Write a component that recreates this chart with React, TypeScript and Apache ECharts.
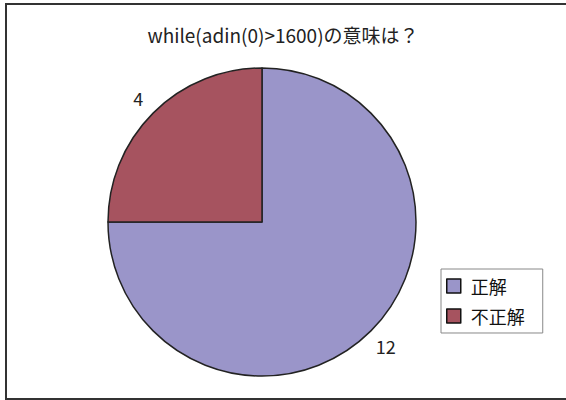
import React, { useEffect, useRef } from "react";
import * as echarts from "echarts";

const titleText = "while(adin(0)>1600)の意味は？";
const categories = ["正解", "不正解"];
const values = [12, 4];
const colors = ["#9a95c9", "#a6535f"];

const FONT = "'Noto Sans CJK JP', 'Noto Sans', sans-serif";

export default function App() {
  const ref = useRef<HTMLDivElement>(null);
  useEffect(() => {
    if (!ref.current) return;
    const chart = echarts.init(ref.current, undefined, { renderer: "svg" });
    const data = categories.map((name, i) => ({
      name,
      value: values[i],
      itemStyle: { color: colors[i] },
    }));
    chart.setOption({
      animation: false,
      backgroundColor: "#ffffff",
      title: {
        text: titleText,
        left: "center",
        top: 20,
        textStyle: { fontFamily: FONT, fontSize: 19, fontWeight: "normal", color: "#222" },
      },
      legend: {
        orient: "vertical",
        left: 441,
        top: 269,
        padding: [8, 18, 8, 5],
        itemGap: 12,
        itemWidth: 14,
        itemHeight: 14,
        icon: "rect",
        borderColor: "#888",
        borderWidth: 1,
        backgroundColor: "#fff",
        selectedMode: false,
        data: categories.map((name, i) => ({
          name,
          itemStyle: { color: colors[i], borderColor: "#111", borderWidth: 1.5 },
        })),
        textStyle: { fontFamily: FONT, fontSize: 18, color: "#111", padding: [0, 0, 0, 5] },
      },
      graphic: [
        {
          type: "rect",
          shape: { x: 6, y: 4, width: 600, height: 395 },
          style: { fill: "none", stroke: "#333", lineWidth: 2 },
          silent: true,
        },
      ],
      series: [
        {
          type: "pie",
          center: [262, 222],
          radius: 154,
          startAngle: 90,
          clockwise: true,
          silent: true,
          label: { show: false },
          labelLine: { show: false },
          itemStyle: { borderColor: "#222", borderWidth: 1.5 },
          emphasis: { disabled: true },
          data,
        },
        {
          type: "pie",
          center: [262, 222],
          radius: [164, 180],
          startAngle: 90,
          clockwise: true,
          silent: true,
          itemStyle: { color: "rgba(0,0,0,0)", borderWidth: 0 },
          label: {
            show: true,
            position: "inside",
            formatter: "{c}",
            fontFamily: FONT,
            fontSize: 18,
            color: "#222",
          },
          labelLine: { show: false },
          emphasis: { disabled: true },
          data: categories.map((name, i) => ({ name, value: values[i] })),
        },
      ],
    });
    return () => chart.dispose();
  }, []);
  return (
    <div
      ref={ref}
      style={{ position: "fixed", left: 0, top: 0, width: 566, height: 400 }}
    />
  );
}
